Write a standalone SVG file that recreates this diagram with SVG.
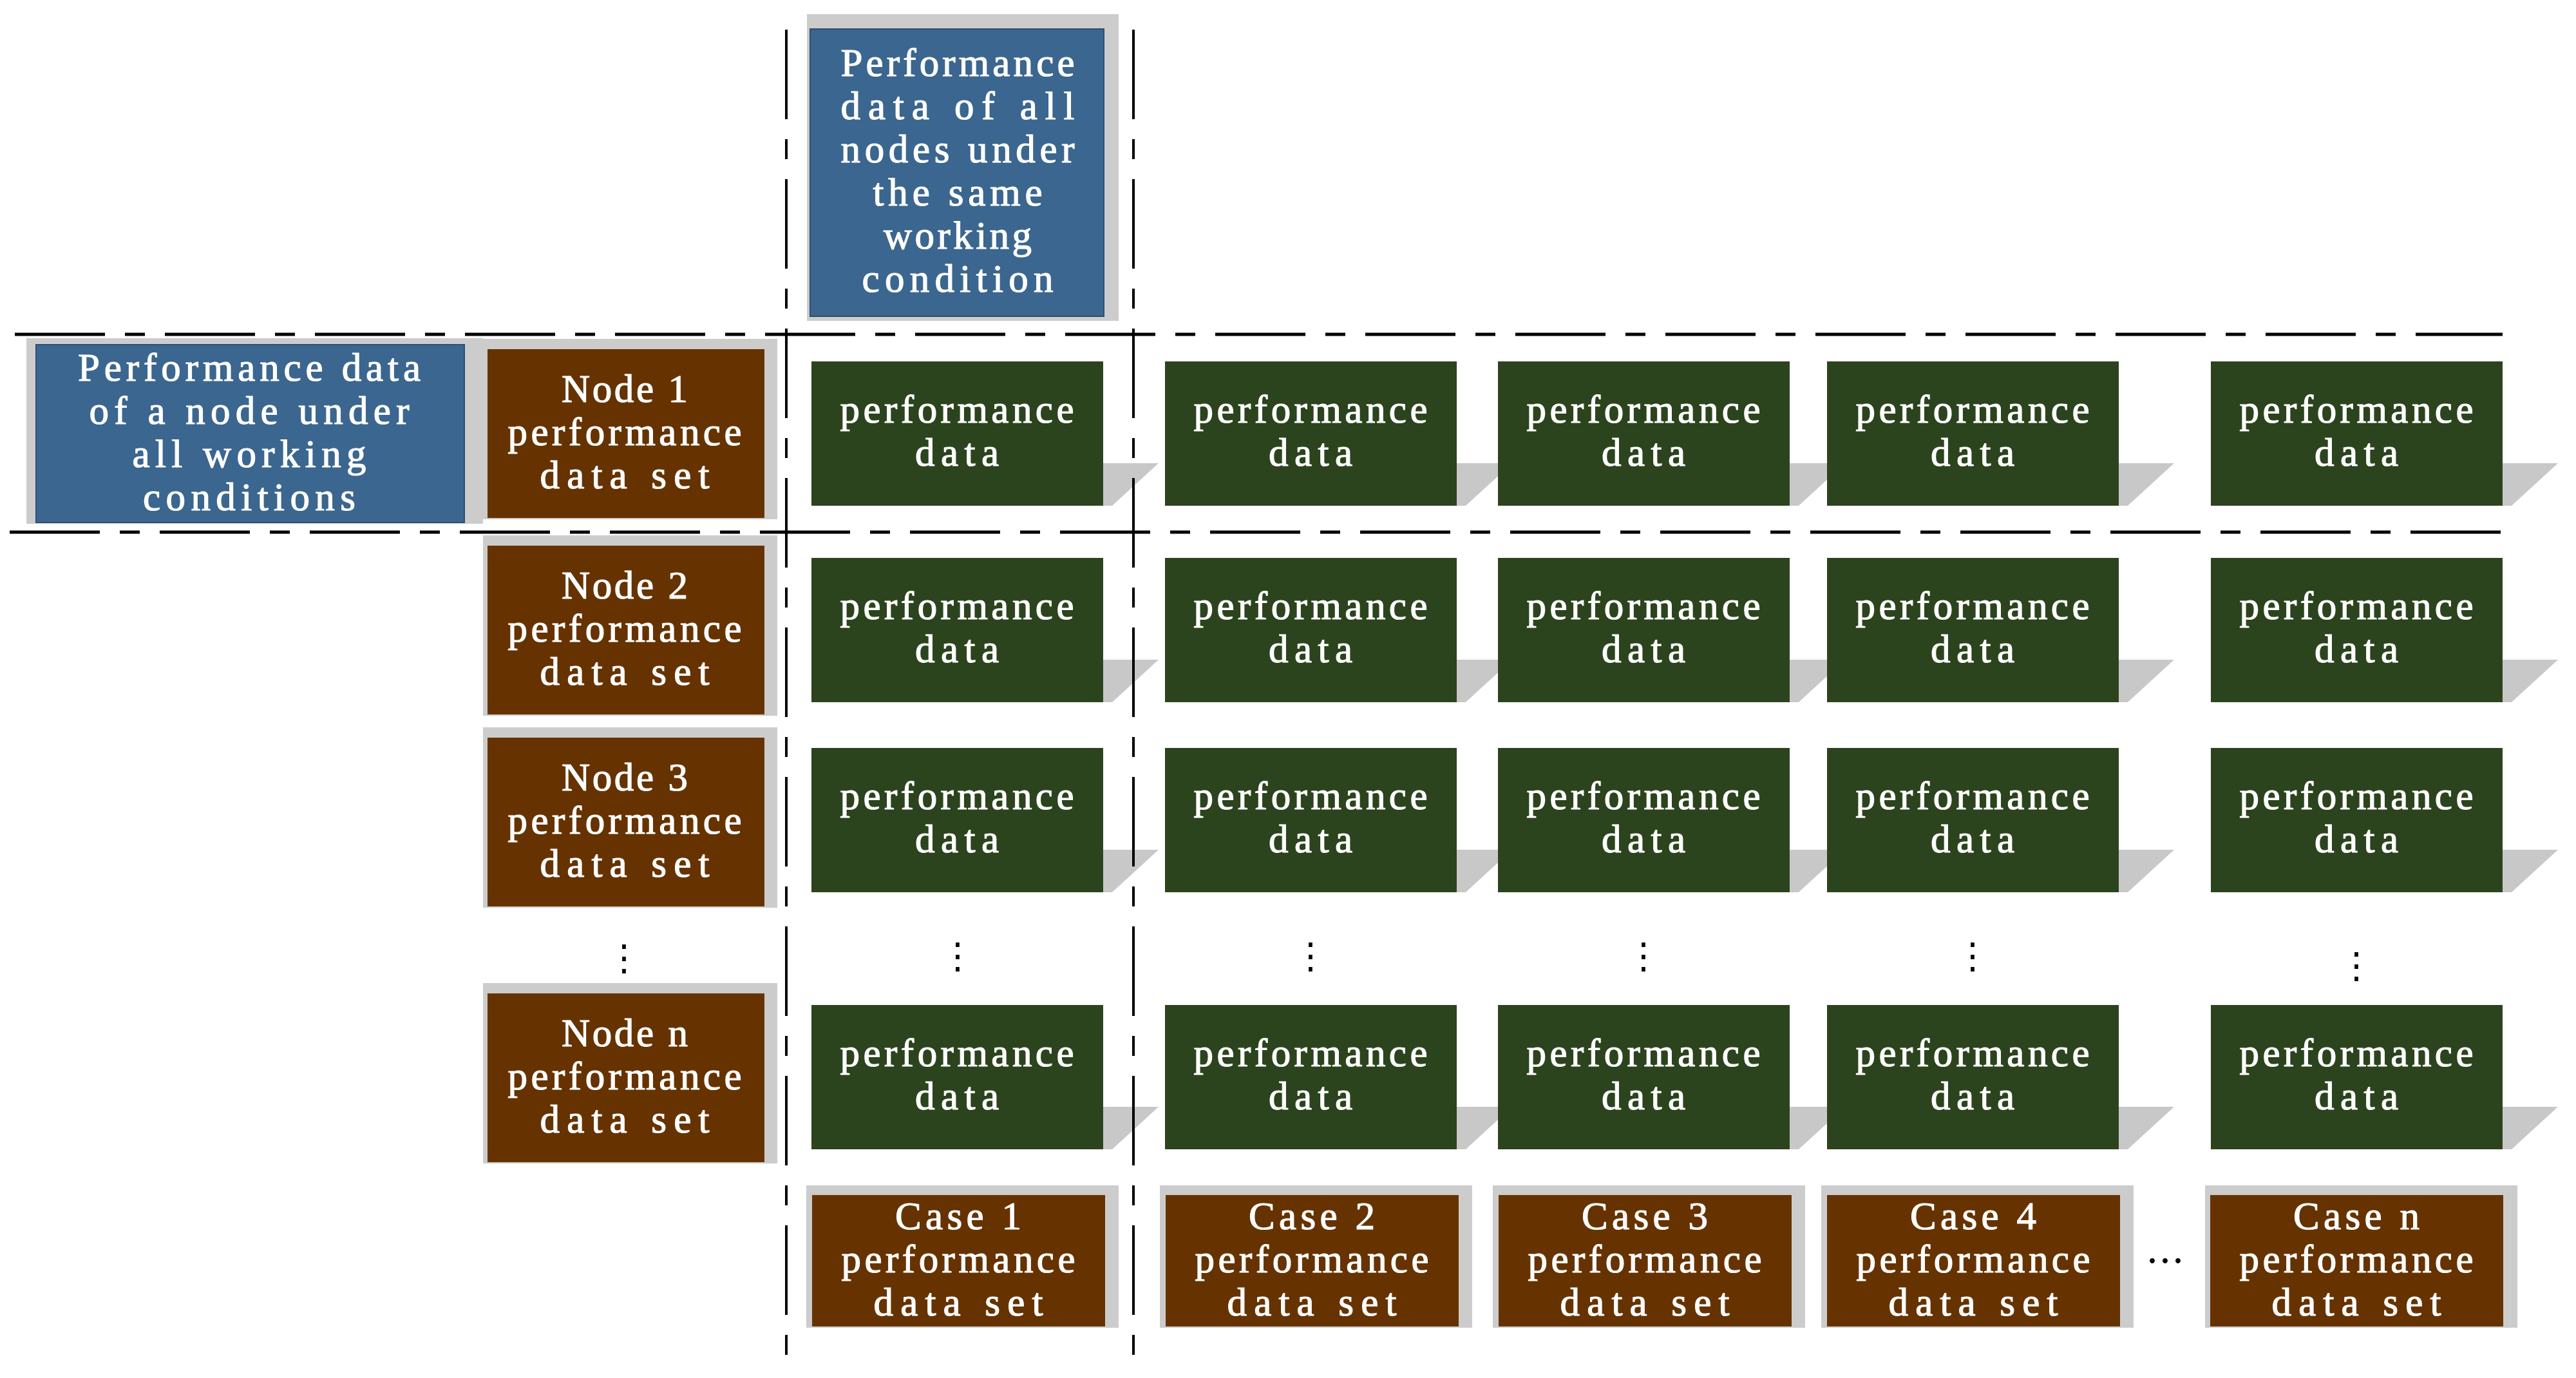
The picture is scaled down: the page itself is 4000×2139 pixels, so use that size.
<svg xmlns="http://www.w3.org/2000/svg" width="4000" height="2139" viewBox="0 0 4000 2139">
<style>
.t{font-family:"Liberation Serif","Times New Roman",serif;font-size:61px;fill:#fff;stroke:#fff;stroke-width:1.2px;text-anchor:middle}
.bk{fill:#cccccc}
.blue{fill:#3b668f;stroke:#2c4f72;stroke-width:2}
.brown{fill:#663300}
.green{fill:#2c441e}
.sh{fill:#c8c8c8}
.dl{stroke:#000;stroke-width:5;fill:none;stroke-dasharray:140 31 31 31}
.dv{stroke-width:4;stroke-dasharray:139 31 31 31}
.dots{font-family:"DejaVu Sans",sans-serif;font-size:56px;fill:#000;text-anchor:middle}
.ell{font-family:"Noto Sans CJK SC",sans-serif;font-size:60px;fill:#000;text-anchor:middle}
</style>
<rect width="4000" height="2139" fill="#fff"/>

<g id="all-nodes-same-condition">
<rect class="bk" x="1253" y="22" width="484" height="476"/>
<rect class="blue" x="1258" y="45" width="456" height="446"/>
<text class="t" x="1487" y="118" textLength="363" lengthAdjust="spacing">Performance</text>
<text class="t" x="1487" y="185" textLength="363" lengthAdjust="spacing">data of all</text>
<text class="t" x="1487" y="252" textLength="363" lengthAdjust="spacing">nodes under</text>
<text class="t" x="1487" y="319" textLength="263" lengthAdjust="spacing">the same</text>
<text class="t" x="1487" y="386" textLength="230" lengthAdjust="spacing">working</text>
<text class="t" x="1487" y="453" textLength="297" lengthAdjust="spacing">condition</text>
</g>

<g id="node-all-conditions">
<rect class="bk" x="41" y="525" width="709" height="288"/>
<rect class="blue" x="56" y="535" width="665" height="276"/>
<text class="t" x="387" y="591" textLength="532" lengthAdjust="spacing">Performance data</text>
<text class="t" x="387" y="658" textLength="497" lengthAdjust="spacing">of a node under</text>
<text class="t" x="387" y="725" textLength="363" lengthAdjust="spacing">all working</text>
<text class="t" x="387" y="792" textLength="330" lengthAdjust="spacing">conditions</text>
</g>

<g id="node1-set">
<rect class="bk" x="750" y="526" width="457" height="280"/>
<rect class="brown" x="757" y="542" width="430" height="262"/>
<text class="t" x="970" y="624" textLength="196" lengthAdjust="spacing">Node 1</text>
<text class="t" x="970" y="691" textLength="363" lengthAdjust="spacing">performance</text>
<text class="t" x="970" y="758" textLength="263" lengthAdjust="spacing">data set</text>
</g>
<g id="node2-set">
<rect class="bk" x="750" y="831" width="457" height="280"/>
<rect class="brown" x="757" y="847" width="430" height="262"/>
<text class="t" x="970" y="929" textLength="196" lengthAdjust="spacing">Node 2</text>
<text class="t" x="970" y="996" textLength="363" lengthAdjust="spacing">performance</text>
<text class="t" x="970" y="1063" textLength="263" lengthAdjust="spacing">data set</text>
</g>
<g id="node3-set">
<rect class="bk" x="750" y="1129" width="457" height="280"/>
<rect class="brown" x="757" y="1145" width="430" height="262"/>
<text class="t" x="970" y="1227" textLength="196" lengthAdjust="spacing">Node 3</text>
<text class="t" x="970" y="1294" textLength="363" lengthAdjust="spacing">performance</text>
<text class="t" x="970" y="1361" textLength="263" lengthAdjust="spacing">data set</text>
</g>
<g id="noden-set">
<rect class="bk" x="750" y="1526" width="457" height="280"/>
<rect class="brown" x="757" y="1542" width="430" height="262"/>
<text class="t" x="970" y="1624" textLength="196" lengthAdjust="spacing">Node n</text>
<text class="t" x="970" y="1691" textLength="363" lengthAdjust="spacing">performance</text>
<text class="t" x="970" y="1758" textLength="263" lengthAdjust="spacing">data set</text>
</g>

<!-- row 1 -->
<g id="pd-r1-c1"><polygon class="sh" points="1713,719 1799,719 1727,785 1713,785"/><rect class="green" x="1260" y="561" width="453" height="224"/><text class="t" x="1486" y="656" textLength="363" lengthAdjust="spacing">performance</text><text class="t" x="1486" y="723" textLength="130" lengthAdjust="spacing">data</text></g>
<g id="pd-r1-c2"><polygon class="sh" points="2262,719 2348,719 2276,785 2262,785"/><rect class="green" x="1809" y="561" width="453" height="224"/><text class="t" x="2035" y="656" textLength="363" lengthAdjust="spacing">performance</text><text class="t" x="2035" y="723" textLength="130" lengthAdjust="spacing">data</text></g>
<g id="pd-r1-c3"><polygon class="sh" points="2779,719 2865,719 2793,785 2779,785"/><rect class="green" x="2326" y="561" width="453" height="224"/><text class="t" x="2552" y="656" textLength="363" lengthAdjust="spacing">performance</text><text class="t" x="2552" y="723" textLength="130" lengthAdjust="spacing">data</text></g>
<g id="pd-r1-c4"><polygon class="sh" points="3290,719 3376,719 3304,785 3290,785"/><rect class="green" x="2837" y="561" width="453" height="224"/><text class="t" x="3063" y="656" textLength="363" lengthAdjust="spacing">performance</text><text class="t" x="3063" y="723" textLength="130" lengthAdjust="spacing">data</text></g>
<g id="pd-r1-cn"><polygon class="sh" points="3886,719 3972,719 3900,785 3886,785"/><rect class="green" x="3433" y="561" width="453" height="224"/><text class="t" x="3659" y="656" textLength="363" lengthAdjust="spacing">performance</text><text class="t" x="3659" y="723" textLength="130" lengthAdjust="spacing">data</text></g>

<!-- row 2 -->
<g id="pd-r2-c1"><polygon class="sh" points="1713,1024 1799,1024 1727,1090 1713,1090"/><rect class="green" x="1260" y="866" width="453" height="224"/><text class="t" x="1486" y="961" textLength="363" lengthAdjust="spacing">performance</text><text class="t" x="1486" y="1028" textLength="130" lengthAdjust="spacing">data</text></g>
<g id="pd-r2-c2"><polygon class="sh" points="2262,1024 2348,1024 2276,1090 2262,1090"/><rect class="green" x="1809" y="866" width="453" height="224"/><text class="t" x="2035" y="961" textLength="363" lengthAdjust="spacing">performance</text><text class="t" x="2035" y="1028" textLength="130" lengthAdjust="spacing">data</text></g>
<g id="pd-r2-c3"><polygon class="sh" points="2779,1024 2865,1024 2793,1090 2779,1090"/><rect class="green" x="2326" y="866" width="453" height="224"/><text class="t" x="2552" y="961" textLength="363" lengthAdjust="spacing">performance</text><text class="t" x="2552" y="1028" textLength="130" lengthAdjust="spacing">data</text></g>
<g id="pd-r2-c4"><polygon class="sh" points="3290,1024 3376,1024 3304,1090 3290,1090"/><rect class="green" x="2837" y="866" width="453" height="224"/><text class="t" x="3063" y="961" textLength="363" lengthAdjust="spacing">performance</text><text class="t" x="3063" y="1028" textLength="130" lengthAdjust="spacing">data</text></g>
<g id="pd-r2-cn"><polygon class="sh" points="3886,1024 3972,1024 3900,1090 3886,1090"/><rect class="green" x="3433" y="866" width="453" height="224"/><text class="t" x="3659" y="961" textLength="363" lengthAdjust="spacing">performance</text><text class="t" x="3659" y="1028" textLength="130" lengthAdjust="spacing">data</text></g>

<!-- row 3 -->
<g id="pd-r3-c1"><polygon class="sh" points="1713,1319 1799,1319 1727,1385 1713,1385"/><rect class="green" x="1260" y="1161" width="453" height="224"/><text class="t" x="1486" y="1256" textLength="363" lengthAdjust="spacing">performance</text><text class="t" x="1486" y="1323" textLength="130" lengthAdjust="spacing">data</text></g>
<g id="pd-r3-c2"><polygon class="sh" points="2262,1319 2348,1319 2276,1385 2262,1385"/><rect class="green" x="1809" y="1161" width="453" height="224"/><text class="t" x="2035" y="1256" textLength="363" lengthAdjust="spacing">performance</text><text class="t" x="2035" y="1323" textLength="130" lengthAdjust="spacing">data</text></g>
<g id="pd-r3-c3"><polygon class="sh" points="2779,1319 2865,1319 2793,1385 2779,1385"/><rect class="green" x="2326" y="1161" width="453" height="224"/><text class="t" x="2552" y="1256" textLength="363" lengthAdjust="spacing">performance</text><text class="t" x="2552" y="1323" textLength="130" lengthAdjust="spacing">data</text></g>
<g id="pd-r3-c4"><polygon class="sh" points="3290,1319 3376,1319 3304,1385 3290,1385"/><rect class="green" x="2837" y="1161" width="453" height="224"/><text class="t" x="3063" y="1256" textLength="363" lengthAdjust="spacing">performance</text><text class="t" x="3063" y="1323" textLength="130" lengthAdjust="spacing">data</text></g>
<g id="pd-r3-cn"><polygon class="sh" points="3886,1319 3972,1319 3900,1385 3886,1385"/><rect class="green" x="3433" y="1161" width="453" height="224"/><text class="t" x="3659" y="1256" textLength="363" lengthAdjust="spacing">performance</text><text class="t" x="3659" y="1323" textLength="130" lengthAdjust="spacing">data</text></g>

<!-- row n -->
<g id="pd-rn-c1"><polygon class="sh" points="1713,1718 1799,1718 1727,1784 1713,1784"/><rect class="green" x="1260" y="1560" width="453" height="224"/><text class="t" x="1486" y="1655" textLength="363" lengthAdjust="spacing">performance</text><text class="t" x="1486" y="1722" textLength="130" lengthAdjust="spacing">data</text></g>
<g id="pd-rn-c2"><polygon class="sh" points="2262,1718 2348,1718 2276,1784 2262,1784"/><rect class="green" x="1809" y="1560" width="453" height="224"/><text class="t" x="2035" y="1655" textLength="363" lengthAdjust="spacing">performance</text><text class="t" x="2035" y="1722" textLength="130" lengthAdjust="spacing">data</text></g>
<g id="pd-rn-c3"><polygon class="sh" points="2779,1718 2865,1718 2793,1784 2779,1784"/><rect class="green" x="2326" y="1560" width="453" height="224"/><text class="t" x="2552" y="1655" textLength="363" lengthAdjust="spacing">performance</text><text class="t" x="2552" y="1722" textLength="130" lengthAdjust="spacing">data</text></g>
<g id="pd-rn-c4"><polygon class="sh" points="3290,1718 3376,1718 3304,1784 3290,1784"/><rect class="green" x="2837" y="1560" width="453" height="224"/><text class="t" x="3063" y="1655" textLength="363" lengthAdjust="spacing">performance</text><text class="t" x="3063" y="1722" textLength="130" lengthAdjust="spacing">data</text></g>
<g id="pd-rn-cn"><polygon class="sh" points="3886,1718 3972,1718 3900,1784 3886,1784"/><rect class="green" x="3433" y="1560" width="453" height="224"/><text class="t" x="3659" y="1655" textLength="363" lengthAdjust="spacing">performance</text><text class="t" x="3659" y="1722" textLength="130" lengthAdjust="spacing">data</text></g>

<!-- cases -->
<g id="case1-set"><rect class="bk" x="1252" y="1840" width="485" height="221"/><rect class="brown" x="1261" y="1855" width="455" height="204"/><text class="t" x="1488" y="1908" textLength="196" lengthAdjust="spacing">Case 1</text><text class="t" x="1488" y="1975" textLength="363" lengthAdjust="spacing">performance</text><text class="t" x="1488" y="2042" textLength="263" lengthAdjust="spacing">data set</text></g>
<g id="case2-set"><rect class="bk" x="1801" y="1840" width="485" height="221"/><rect class="brown" x="1810" y="1855" width="455" height="204"/><text class="t" x="2037" y="1908" textLength="196" lengthAdjust="spacing">Case 2</text><text class="t" x="2037" y="1975" textLength="363" lengthAdjust="spacing">performance</text><text class="t" x="2037" y="2042" textLength="263" lengthAdjust="spacing">data set</text></g>
<g id="case3-set"><rect class="bk" x="2318" y="1840" width="485" height="221"/><rect class="brown" x="2327" y="1855" width="455" height="204"/><text class="t" x="2554" y="1908" textLength="196" lengthAdjust="spacing">Case 3</text><text class="t" x="2554" y="1975" textLength="363" lengthAdjust="spacing">performance</text><text class="t" x="2554" y="2042" textLength="263" lengthAdjust="spacing">data set</text></g>
<g id="case4-set"><rect class="bk" x="2828" y="1840" width="485" height="221"/><rect class="brown" x="2837" y="1855" width="455" height="204"/><text class="t" x="3064" y="1908" textLength="196" lengthAdjust="spacing">Case 4</text><text class="t" x="3064" y="1975" textLength="363" lengthAdjust="spacing">performance</text><text class="t" x="3064" y="2042" textLength="263" lengthAdjust="spacing">data set</text></g>
<g id="casen-set"><rect class="bk" x="3424" y="1840" width="485" height="221"/><rect class="brown" x="3432" y="1855" width="455" height="204"/><text class="t" x="3659" y="1908" textLength="196" lengthAdjust="spacing">Case n</text><text class="t" x="3659" y="1975" textLength="363" lengthAdjust="spacing">performance</text><text class="t" x="3659" y="2042" textLength="263" lengthAdjust="spacing">data set</text></g>

<g id="ellipses">
<text class="dots" x="969" y="1506">⋮</text>
<text class="dots" x="1487" y="1503">⋮</text>
<text class="dots" x="2035" y="1503">⋮</text>
<text class="dots" x="2552" y="1503">⋮</text>
<text class="dots" x="3063" y="1503">⋮</text>
<text class="dots" x="3659" y="1518">⋮</text>
<text class="ell" x="3362" y="1980">…</text>
</g>

<g id="connectors">
<line class="dl" x1="23" y1="519" x2="3886" y2="519"/>
<line class="dl" x1="15" y1="826" x2="3886" y2="826"/>
<line class="dl dv" x1="1221" y1="46" x2="1221" y2="2103"/>
<line class="dl dv" x1="1760" y1="46" x2="1760" y2="2103"/>
</g>
</svg>
